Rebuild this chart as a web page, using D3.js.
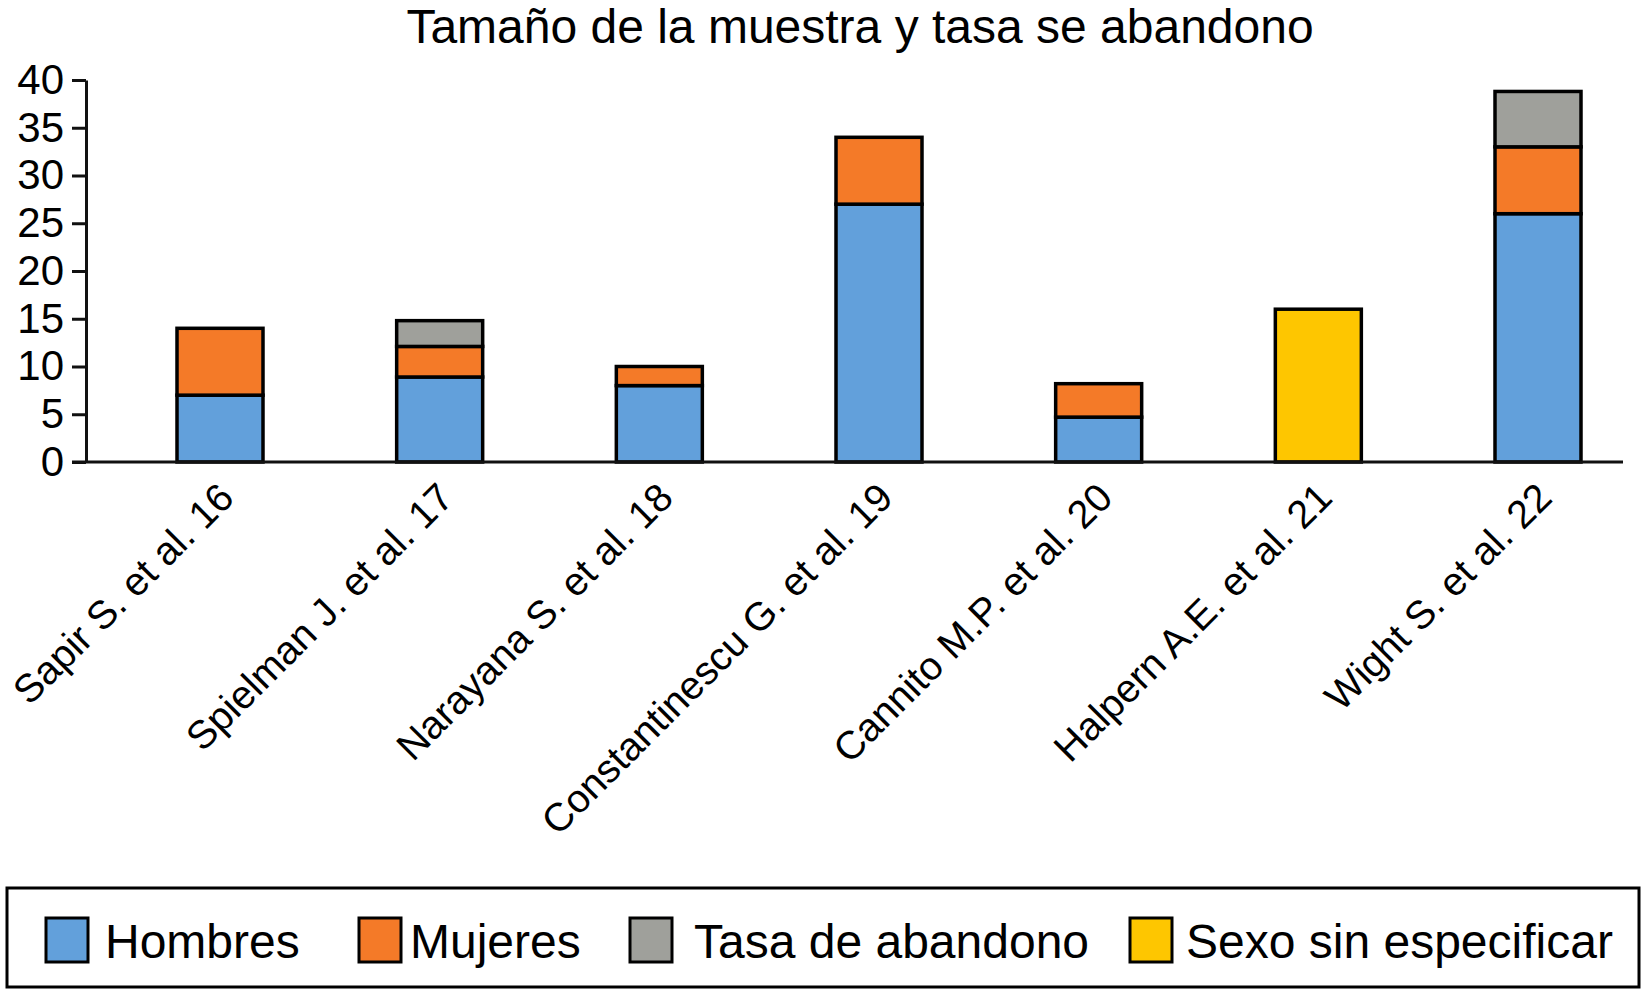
<!DOCTYPE html>
<html>
<head>
<meta charset="utf-8">
<script src="https://cdn.jsdelivr.net/npm/d3@7"></script>
<style>
  body { margin: 0; background: #fff; }
  svg { display: block; font-family: "Liberation Sans", Arial, sans-serif; }
</style>
</head>
<body>
<div id="chart"></div>
<script>
/* Data */
const studies = [
  "Sapir S. et al. 16",
  "Spielman J. et al. 17",
  "Narayana S. et al. 18",
  "Constantinescu G. et al. 19",
  "Cannito M.P. et al. 20",
  "Halpern A.E. et al. 21",
  "Wight S. et al. 22"
];
const hombres        = [7, 8.9, 8, 27, 4.7, 0, 26];
const mujeres        = [7, 3.2, 2, 7, 3.5, 0, 7];
const abandono       = [0, 2.7, 0, 0, 0, 0, 5.8];
const sinEspecificar = [0, 0, 0, 0, 0, 16, 0];
const seriesNames = ["Hombres", "Mujeres", "Tasa de abandono", "Sexo sin especificar"];
const seriesColors = ["#62a0db", "#f47a28", "#9fa09b", "#fec600"];
const yTicks = [0, 5, 10, 15, 20, 25, 30, 35, 40];
const title = "Tamaño de la muestra y tasa se abandono";

const rows = studies.map((s, i) => ({
  study: s,
  "Hombres": hombres[i],
  "Mujeres": mujeres[i],
  "Tasa de abandono": abandono[i],
  "Sexo sin especificar": sinEspecificar[i]
}));

/* Chart */
const width = 1642, height = 991;
const svg = d3.select("#chart").append("svg")
  .attr("width", width)
  .attr("height", height);

const x = d3.scalePoint().domain(studies).range([220, 1538]);
const y = d3.scaleLinear().domain([0, 40]).range([462, 80]);
const color = d3.scaleOrdinal().domain(seriesNames).range(seriesColors);
const barW = 86;

svg.append("text")
  .attr("x", 860)
  .attr("y", 43)
  .attr("text-anchor", "middle")
  .attr("font-size", "48px")
  .attr("fill", "#000")
  .text(title);

const stacked = d3.stack().keys(seriesNames)(rows);

svg.append("g").selectAll("g")
  .data(stacked)
  .enter().append("g")
  .attr("fill", d => color(d.key))
  .selectAll("rect")
  .data(d => d.filter(p => p[1] - p[0] > 0))
  .enter().append("rect")
  .attr("x", d => x(d.data.study) - barW / 2)
  .attr("y", d => y(d[1]))
  .attr("width", barW)
  .attr("height", d => y(d[0]) - y(d[1]))
  .attr("stroke", "#000")
  .attr("stroke-width", 3.5);

/* y axis */
const yAxis = svg.append("g")
  .attr("transform", "translate(86,0)")
  .call(d3.axisLeft(y).tickValues(yTicks).tickSize(14).tickSizeOuter(0).tickPadding(8));
yAxis.select(".domain").attr("stroke", "#111").attr("stroke-width", 3);
yAxis.selectAll(".tick line").attr("stroke", "#111").attr("stroke-width", 3);
yAxis.selectAll(".tick text")
  .attr("font-size", "42px")
  .attr("font-family", "'Liberation Sans', Arial, sans-serif")
  .attr("fill", "#000");

/* x baseline */
svg.append("line")
  .attr("x1", 72).attr("x2", 1623)
  .attr("y1", y(0)).attr("y2", y(0))
  .attr("stroke", "#111")
  .attr("stroke-width", 3);

/* x labels */
svg.append("g").selectAll("text")
  .data(studies)
  .enter().append("text")
  .attr("transform", d => `translate(${x(d) + 16},500) rotate(-45)`)
  .attr("text-anchor", "end")
  .attr("font-size", "39.5px")
  .attr("fill", "#000")
  .text(d => d);

/* Legend */
const legend = svg.append("g");
legend.append("rect")
  .attr("x", 7).attr("y", 888)
  .attr("width", 1632).attr("height", 99)
  .attr("fill", "none")
  .attr("stroke", "#000")
  .attr("stroke-width", 3);

const legendX = [46, 359, 630, 1130];
const textGap = [59, 51, 64, 56];
seriesNames.forEach((name, i) => {
  const g = legend.append("g").attr("transform", `translate(${legendX[i]},918)`);
  g.append("rect")
    .attr("width", 42).attr("height", 44)
    .attr("fill", color(name))
    .attr("stroke", "#000")
    .attr("stroke-width", 3);
  g.append("text")
    .attr("x", textGap[i])
    .attr("y", 40)
    .attr("font-size", "48px")
    .attr("fill", "#000")
    .text(name);
});
</script>
</body>
</html>
